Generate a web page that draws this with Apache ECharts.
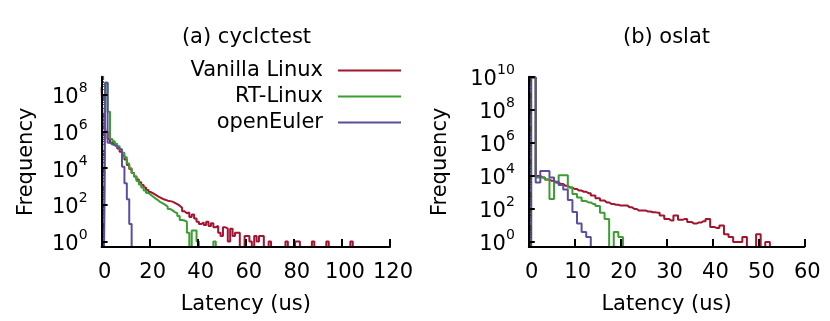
<!DOCTYPE html>
<html><head><meta charset="utf-8">
<script src="https://cdn.jsdelivr.net/npm/echarts@6/dist/echarts.min.js"></script>
<style>html,body{margin:0;padding:0;background:#fff}#c{width:830px;height:321px}</style>
</head><body><div id="c"></div>
<script>
// ---- data: histogram counts per 1 us bin (index = latency in us) ----
const seriesNames = ['Vanilla Linux', 'RT-Linux', 'openEuler'];
const titles = ['(a) cyclctest', '(b) oslat'];
const xTicksCyc = [0, 20, 40, 60, 80, 100, 120];
const xTicksOslat = [0, 10, 20, 30, 40, 50, 60];
const yTicksCyc = [1, 1e2, 1e4, 1e6, 1e8];
const yTicksOslat = [1, 1e2, 1e4, 1e6, 1e8, 1e10];

const cycVanilla = [2.7e8, 1.5e6, 1.0e6, 4.0e5, 2.5e5, 2.0e5, 1.6e5, 1.2e5, 8.0e4, 5.0e4,
  3.0e4, 1.5e4, 9000, 5500, 3500, 2400, 1700, 1200, 900, 650,
  500, 420, 350, 290, 250, 210, 190, 170, 160, 150,
  130, 110, 90, 70, 45, 35, 38, 22, 30, 18,
  12, 9, 11, 8, 12, 7, 10, 6, 7, 3,
  2, 6, 5, 1, 5, 2, 3, 3, 0, 0,
  2, 2, 1, 0, 2, 1, 2, 2, 0, 0,
  1, 0, 0, 0, 0, 0, 0, 1, 0, 0,
  0, 1, 1, 0, 0, 0, 0, 0, 1, 0,
  0, 0, 0, 0, 1, 0, 0, 0, 0, 0,
  0, 0, 0, 0, 1, 0];
const cycRT = [0, 0, 4.7e8, 1.2e7, 4.0e5, 3.0e5, 2.2e5, 1.6e5, 1.1e5, 7.0e4,
  4.0e4, 1.8e4, 1.0e4, 5500, 3500, 2000, 1300, 900, 600, 450,
  350, 280, 220, 180, 140, 120, 100, 80, 60, 50,
  40, 35, 25, 15, 14, 12, 3, 0, 4, 4,
  1, 0, 0, 0, 0, 0, 0, 1, 0];
const cycEuler = [0, 0, 4.7e8, 2.5e5, 2.0e5, 1.8e5, 1.5e5, 1.2e5, 1.0e5, 1.2e4,
  1500, 200, 9, 0];

const oslatVanilla = [0, 9e9, 1.0e4, 8000, 6000, 5000, 4000, 3200, 2500, 2000,
  1600, 1300, 1100, 900, 650, 450, 320, 250, 200, 180,
  160, 160, 125, 100, 80, 80, 70, 63, 60, 40,
  25, 20, 40, 22, 25, 16, 13, 15, 18, 25,
  8, 7, 10, 3, 2, 1, 1, 2, 0, 0,
  3, 0, 1, 0];
const oslatRT = [0, 9e9, 8000, 8000, 6000, 400, 4000, 1.1e4, 1.1e4, 2000,
  800, 500, 300, 250, 200, 150, 60, 25, 0, 4,
  2, 0];
const oslatEuler = [0, 9e9, 4000, 2.0e4, 2.0e4, 8000, 4500, 2800, 1500, 350,
  65, 13, 4, 2, 0];

// ---- styling ----
const colors = ['#A2142F', '#3A9E32', '#5B4EA0'];
const FONT = 'DejaVu Sans';
const FS = 21;
const YMIN = 0.5;

function pairs(counts) {
  // empty bins are drawn on the bottom edge of the plot (axis minimum)
  return counts.map((c, i) => [i, c > 0 ? c : YMIN]);
}
function minorTicks(maxExp) {
  const out = [];
  for (let d = -1; d <= maxExp; d++) {
    for (let k = 1; k <= 9; k++) {
      const v = k * Math.pow(10, d);
      if (v >= YMIN && v <= Math.pow(10, maxExp) && !(k === 1 && d % 2 === 0)) out.push(v);
    }
  }
  return out;
}
function supLabel(v) {
  const e = Math.round(Math.log10(v));
  return '{b|10}{s|' + e + '}';
}

const grids = [
  { left: 101.6, top: 76.7, width: 288.4, height: 170.3 },
  { left: 528.8, top: 76.7, width: 275.5, height: 170.3 }
];

function xAxis(gi, ticks, nameGap) {
  return {
    type: 'value', gridIndex: gi, min: ticks[0], max: ticks[ticks.length - 1],
    interval: ticks[1] - ticks[0], z: 10,
    axisLine: { onZero: false, lineStyle: { color: '#000', width: 2 } },
    axisTick: { inside: true, length: 8, lineStyle: { color: '#000', width: 2 } },
    axisLabel: { fontSize: FS, color: '#000', fontFamily: FONT, margin: 15, padding: [0, 0, 0, 6] },
    splitLine: { show: false },
    name: 'Latency (us)', nameLocation: 'middle', nameGap: nameGap,
    nameTextStyle: { fontSize: FS, color: '#000', fontFamily: FONT }
  };
}
function yAxis(gi, ticks, maxV, nameGap) {
  return {
    type: 'log', logBase: 10, gridIndex: gi, min: YMIN, max: maxV, z: 10, position: 'left',
    axisLine: { onZero: false, lineStyle: { color: '#000', width: 2 } },
    axisTick: { inside: true, length: 6, lineStyle: { color: '#000', width: 2 }, customValues: ticks },
    axisLabel: {
      customValues: ticks, margin: 14, formatter: supLabel, color: '#000',
      rich: {
        b: { fontSize: FS, fontFamily: FONT, color: '#000', lineHeight: 27, verticalAlign: 'bottom' },
        s: { fontSize: 14, fontFamily: FONT, color: '#000', lineHeight: 14, verticalAlign: 'top' }
      }
    },
    splitLine: { show: false },
    name: 'Frequency', nameLocation: 'middle', nameGap: nameGap,
    nameTextStyle: { fontSize: FS, color: '#000', fontFamily: FONT }
  };
}
function minorAxis(gi, maxV, maxExp) {
  const mt = minorTicks(maxExp);
  return {
    type: 'log', logBase: 10, gridIndex: gi, min: YMIN, max: maxV, z: 9, position: 'left', offset: 0,
    axisLine: { show: false },
    axisTick: { show: true, inside: true, length: 2.5, lineStyle: { color: '#333', width: 0.8 }, customValues: mt },
    axisLabel: { show: false },
    splitLine: { show: false }
  };
}
function line(name, gi, counts, ci) {
  return {
    type: 'line', name: name, xAxisIndex: gi, yAxisIndex: gi * 2, data: pairs(counts),
    step: 'middle', showSymbol: false, symbol: 'none', animation: false,
    lineStyle: { color: colors[ci], width: 2 }, itemStyle: { color: colors[ci] }
  };
}

const chart = echarts.init(document.getElementById('c'));
chart.setOption({
  animation: false,
  textStyle: { fontFamily: FONT },
  grid: grids,
  xAxis: [xAxis(0, xTicksCyc, 47), xAxis(1, xTicksOslat, 47)],
  yAxis: [yAxis(0, yTicksCyc, 1e9, 65), minorAxis(0, 1e9, 9), yAxis(1, yTicksOslat, 1e10, 78), minorAxis(1, 1e10, 10)],
  legend: {
    data: seriesNames, orient: 'vertical', right: 429, top: 60, padding: 0,
    align: 'right', icon: 'rect', itemWidth: 63, itemHeight: 2, itemGap: 5,
    textStyle: { fontSize: FS, color: '#000', fontFamily: FONT, lineHeight: 20, padding: [0, 10, 0, 0] }
  },
  graphic: [
    { type: 'text', x: 246.5, y: 38, style: { text: titles[0], fill: '#000', font: FS + 'px "DejaVu Sans"', textAlign: 'center', textVerticalAlign: 'middle' } },
    { type: 'text', x: 666.5, y: 38, style: { text: titles[1], fill: '#000', font: FS + 'px "DejaVu Sans"', textAlign: 'center', textVerticalAlign: 'middle' } }
  ],
  series: [
    line(seriesNames[0], 0, cycVanilla, 0),
    line(seriesNames[1], 0, cycRT, 1),
    line(seriesNames[2], 0, cycEuler, 2),
    line(seriesNames[0], 1, oslatVanilla, 0),
    line(seriesNames[1], 1, oslatRT, 1),
    line(seriesNames[2], 1, oslatEuler, 2)
  ]
});
</script>
</body></html>
